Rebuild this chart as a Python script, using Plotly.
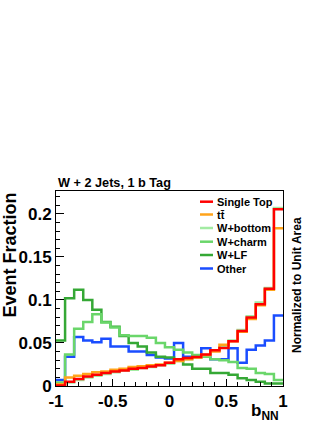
import numpy as np
import plotly.graph_objects as go

# bNN distributions, 25 bins from -1 to 1, normalized to unit area
n_bins = 25
single_top = [0.0005, 0.005, 0.008, 0.011, 0.013, 0.015, 0.017, 0.018, 0.020, 0.021,
              0.0227, 0.024, 0.027, 0.031, 0.0325, 0.0336, 0.0365, 0.0415, 0.0443, 0.052,
              0.064, 0.0796, 0.095, 0.113, 0.2055]
ttbar = [0.002, 0.010, 0.012, 0.014, 0.016, 0.017, 0.019, 0.020, 0.022, 0.023,
         0.024, 0.025, 0.027, 0.029, 0.031, 0.033, 0.036, 0.040, 0.048, 0.052,
         0.063, 0.078, 0.094, 0.112, 0.1835]
w_bottom = [0.001, 0.004, 0.007, 0.010, 0.012, 0.014, 0.016, 0.018, 0.019, 0.021,
            0.022, 0.024, 0.026, 0.029, 0.031, 0.033, 0.036, 0.041, 0.045, 0.053,
            0.065, 0.081, 0.097, 0.114, 0.207]
w_charm = [0.004, 0.0365, 0.0667, 0.0745, 0.0835, 0.0737, 0.068, 0.059, 0.058, 0.058,
           0.056, 0.050, 0.045, 0.042, 0.039, 0.036, 0.034, 0.031, 0.030, 0.028,
           0.021, 0.020, 0.015, 0.014, 0.007]
w_lf = [0.053, 0.102, 0.112, 0.100, 0.0886, 0.0745, 0.069, 0.058, 0.050, 0.046,
        0.039, 0.034, 0.033, 0.030, 0.025, 0.020, 0.020, 0.015, 0.015, 0.013,
        0.009, 0.007, 0.005, 0.003, 0.003]
other = [0.007, 0.034, 0.057, 0.053, 0.051, 0.055, 0.046, 0.046, 0.040, 0.040,
         0.036, 0.033, 0.032, 0.050, 0.034, 0.034, 0.044, 0.031, 0.031, 0.044,
         0.027, 0.042, 0.047, 0.053, 0.082]

names = ["Single Top", "tt\u0304", "W+bottom", "W+charm", "W+LF", "Other"]
series = [single_top, ttbar, w_bottom, w_charm, w_lf, other]
colors = ["#ff0000", "#ffa31a", "#a3eba3", "#6ad66a", "#35a835", "#1a4dff"]

x_ticks = [-1, -0.5, 0, 0.5, 1]
x_ticktext = ["-1", "-0.5", "0", "0.5", "1"]
y_ticks = [0, 0.05, 0.1, 0.15, 0.2]
y_ticktext = ["0", "0.05", "0.1", "0.15", "0.2"]

edges = np.linspace(-1, 1, n_bins + 1)

fig = go.Figure()
# draw background samples first, signal last
for name, vals, col in reversed(list(zip(names, series, colors))):
    fig.add_trace(go.Scatter(
        x=edges, y=list(vals) + [vals[-1]],
        mode="lines", line=dict(color=col, width=2.5, shape="hv"),
        name=name, showlegend=False, hoverinfo="skip"))

FONT = "Liberation Sans, Arial, Helvetica, sans-serif"

# frame: x 56..283 px, y 191..386 px
def px_x(p):
    return (p - 56) / 227.0

def px_y(p):
    return (386 - p) / 195.0

annotations = [
    dict(text="W + 2 Jets, 1 b Tag", x=0, y=px_y(183), xref="paper", yref="paper",
         xanchor="left", yanchor="middle", showarrow=False,
         font=dict(family=FONT, size=12.7, color="black", weight="bold")),
    dict(text="Event Fraction", x=px_x(9), y=1, xref="paper", yref="paper",
         xanchor="center", yanchor="top", textangle=-90, showarrow=False,
         font=dict(family=FONT, size=18, color="black", weight="bold")),
    dict(text="Normalized to Unit Area", x=px_x(297), y=px_y(285), xref="paper", yref="paper",
         xanchor="center", yanchor="middle", textangle=-90, showarrow=False,
         font=dict(family=FONT, size=12, color="black", weight="bold")),
    dict(text="b<sub>NN</sub>", x=px_x(281), y=px_y(412), xref="paper", yref="paper",
         xanchor="right", yanchor="middle", showarrow=False,
         font=dict(family=FONT, size=17, color="black", weight="bold")),
]

shapes = []
legend_rows = [201.7, 214.5, 228, 241.7, 255, 268.5]
for name, col, ry in zip(names, colors, legend_rows):
    shapes.append(dict(type="line", xref="paper", yref="paper",
                       x0=px_x(200), x1=px_x(213), y0=px_y(ry), y1=px_y(ry),
                       line=dict(color=col, width=2.5)))
    annotations.append(dict(text=name, x=px_x(215), y=px_y(ry), xref="paper", yref="paper",
                            xanchor="left", yanchor="middle", showarrow=False,
                            font=dict(family=FONT, size=11, color="black", weight="bold")))

fig.update_layout(
    width=332, height=430,
    margin=dict(l=56, r=49, t=191, b=44),
    paper_bgcolor="white", plot_bgcolor="white",
    showlegend=False,
    annotations=annotations, shapes=shapes,
    font=dict(family=FONT, color="black"),
)
fig.update_xaxes(
    range=[-1, 1], showgrid=False, zeroline=False, automargin=False,
    showline=True, linecolor="black", linewidth=1, mirror=True,
    ticks="inside", ticklen=7, tickcolor="black",
    tickvals=x_ticks, ticktext=x_ticktext,
    tickfont=dict(family=FONT, size=17, color="black", weight="bold"),
    minor=dict(dtick=0.1, tick0=0, ticks="inside", ticklen=4, tickcolor="black"),
)
fig.update_yaxes(
    range=[0, 0.2267], showgrid=False, zeroline=False, automargin=False,
    showline=True, linecolor="black", linewidth=1, mirror=True,
    ticks="inside", ticklen=8, tickcolor="black",
    tickvals=y_ticks, ticktext=y_ticktext,
    tickfont=dict(family=FONT, size=17, color="black", weight="bold"),
    minor=dict(dtick=0.01, tick0=0, ticks="inside", ticklen=4, tickcolor="black"),
)

fig.write_html("out.html", config={"displayModeBar": False},
               post_script="document.body.style.margin='0';")
